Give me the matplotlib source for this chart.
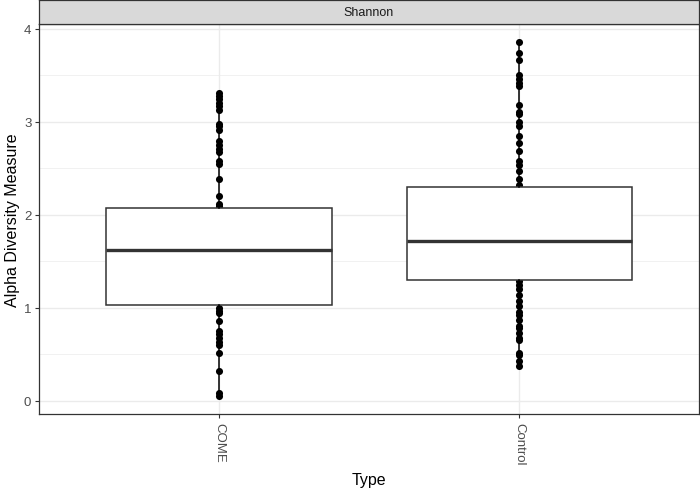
import matplotlib
matplotlib.use("Agg")
from matplotlib import pyplot as plt
from matplotlib.ticker import MultipleLocator

plt.rcParams["font.family"] = ["Liberation Sans", "DejaVu Sans"]

# Shannon diversity values (points outside the boxes)
categories = ["COME", "Control"]
come_points = [3.31, 3.28, 3.24, 3.20, 3.17, 3.13, 2.98, 2.95, 2.91, 2.79, 2.75,
               2.71, 2.67, 2.58, 2.55, 2.39, 2.20, 2.12, 2.09,
               1.00, 0.97, 0.95, 0.86, 0.75, 0.72, 0.68, 0.63, 0.60, 0.51,
               0.32, 0.08, 0.05]
control_points = [3.86, 3.74, 3.66, 3.50, 3.46, 3.42, 3.38, 3.18, 3.11, 3.08,
                  3.00, 2.95, 2.85, 2.77, 2.69, 2.58, 2.53, 2.47, 2.39, 2.32,
                  1.29, 1.25, 1.20, 1.14, 1.07, 1.02, 0.96, 0.92, 0.87, 0.81,
                  0.78, 0.73, 0.68, 0.65, 0.51, 0.49, 0.43, 0.38]
# box statistics (q1, median, q3)
q1 = [1.03, 1.30]
medians = [1.62, 1.72]
q3 = [2.07, 2.30]

points = [come_points, control_points]

fig = plt.figure(figsize=(7, 4.89), dpi=100)
ax = fig.add_axes([0.0557, 0.1513, 0.9429, 0.7976])

for i, pts in enumerate(points):
    ax.scatter([i + 1] * len(pts), pts, s=26, color="black", zorder=2, linewidths=0)

stats = []
for i, pts in enumerate(points):
    stats.append({"whislo": min(pts), "q1": q1[i], "med": medians[i], "q3": q3[i],
                  "whishi": max(pts), "fliers": [], "label": categories[i]})

ax.bxp(stats, positions=[1, 2], widths=0.75, showcaps=False, patch_artist=True,
       boxprops=dict(facecolor="white", edgecolor="#333333", linewidth=1.1),
       medianprops=dict(color="#333333", linewidth=2.4),
       whiskerprops=dict(color="black", linewidth=1.1),
       zorder=3)

allv = come_points + control_points
rng = max(allv) - min(allv)
ax.set_ylim(min(allv) - 0.05 * rng, max(allv) + 0.05 * rng)
ax.set_xlim(0.4, 2.6)
ax.set_xticks([1, 2])
ax.set_xticklabels(categories, rotation=-90, va="top", ha="center")
ax.yaxis.set_major_locator(MultipleLocator(1))
ax.yaxis.set_minor_locator(MultipleLocator(0.5))

ax.grid(which="major", color="#EBEBEB", linewidth=1.0, zorder=0)
ax.grid(which="minor", axis="y", color="#EBEBEB", linewidth=0.5, zorder=0)
ax.set_axisbelow(True)
ax.tick_params(which="major", length=3, width=0.8, color="#333333",
               labelcolor="#4D4D4D", labelsize=9.5, pad=2.5)
ax.tick_params(which="minor", length=0)
for s in ax.spines.values():
    s.set_color("#333333")
    s.set_linewidth(0.9)

ax.set_xlabel("Type", fontsize=11.5, va="center")
ax.xaxis.set_label_coords(0.5, -0.167)
ax.set_ylabel("Alpha Diversity Measure", fontsize=11.5, labelpad=3)

# facet strip
strip = fig.add_axes([0.0557, 0.9489, 0.9429, 0.049])
strip.set_facecolor("#D9D9D9")
strip.set_xticks([])
strip.set_yticks([])
for s in strip.spines.values():
    s.set_color("#333333")
    s.set_linewidth(0.9)
strip.text(0.5, 0.5, "Shannon", ha="center", va="center", fontsize=9,
           color="#1A1A1A", transform=strip.transAxes)

fig.savefig("out.png", dpi=100)
